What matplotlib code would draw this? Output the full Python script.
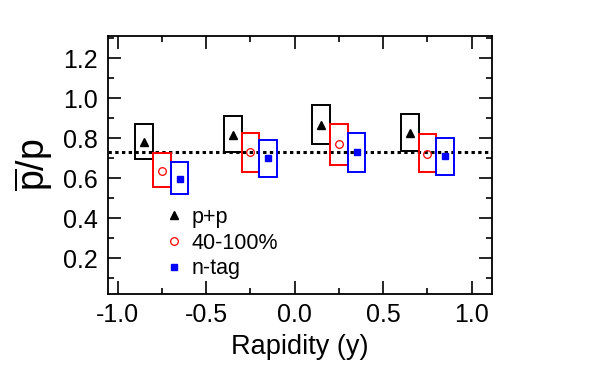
import numpy as np
import matplotlib.pyplot as plt
import matplotlib as mpl

mpl.rcParams['font.family'] = ['Liberation Sans', 'DejaVu Sans']
mpl.rcParams['mathtext.fontset'] = 'custom'
mpl.rcParams['mathtext.rm'] = 'Liberation Sans'
mpl.rcParams['mathtext.it'] = 'Liberation Sans'

# rapidity bins, one group of three per bin
y_pp = [-0.85, -0.35, 0.15, 0.65]
y_per = [-0.75, -0.25, 0.25, 0.75]
y_ntag = [-0.65, -0.15, 0.35, 0.85]

# p+p
pp_val = [0.782, 0.816, 0.866, 0.824]
pp_lo = [0.698, 0.730, 0.771, 0.738]
pp_hi = [0.872, 0.911, 0.966, 0.921]

# 40-100%
per_val = [0.638, 0.730, 0.770, 0.721]
per_lo = [0.558, 0.633, 0.666, 0.630]
per_hi = [0.725, 0.824, 0.869, 0.819]

# n-tag
ntag_val = [0.598, 0.700, 0.730, 0.711]
ntag_lo = [0.520, 0.608, 0.633, 0.616]
ntag_hi = [0.680, 0.791, 0.824, 0.803]

ref_ratio = 0.730
box_w = 0.1

fig = plt.figure(figsize=(6, 3.68), dpi=100)
ax = fig.add_axes([0.1795, 0.2003, 0.64, 0.7019])

# systematic boxes
for xs, lo, hi, col in [(y_pp, pp_lo, pp_hi, 'black'),
                        (y_per, per_lo, per_hi, 'red'),
                        (y_ntag, ntag_lo, ntag_hi, 'blue')]:
    ax.bar(xs, np.array(hi) - np.array(lo), bottom=lo, width=box_w,
           fill=False, edgecolor=col, linewidth=1.4, zorder=2)

ax.axhline(ref_ratio, color='black', linestyle=(0, (1.1, 1.1)), linewidth=2.2, zorder=1)

h1, = ax.plot(y_pp, pp_val, '^', color='black', ms=5.5, ls='none', zorder=3)
h2, = ax.plot(y_per, per_val, 'o', mfc='none', mec='red', mew=0.9, ms=5.5, ls='none', zorder=3)
h3, = ax.plot(y_ntag, ntag_val, 's', color='blue', ms=5, ls='none', zorder=3)

ax.legend([h1, h2, h3], ['p+p', '40-100%', 'n-tag'], loc='upper left',
          bbox_to_anchor=(0.145, 0.338), frameon=False, fontsize=15.5,
          handlelength=1.0, handletextpad=0.3, labelspacing=0.22,
          numpoints=1, borderpad=0, borderaxespad=0)

ax.set_xlim(-1.056, 1.113)
ax.set_ylim(0.02, 1.31)
ax.set_xticks([-1.0, -0.5, 0.0, 0.5, 1.0])
ax.set_xticklabels(['-1.0', '-0.5', '0.0', '0.5', '1.0'])
ax.set_xticks(np.arange(-1.0, 1.01, 0.25), minor=True)
ax.set_yticks([0.2, 0.4, 0.6, 0.8, 1.0, 1.2])
ax.set_yticklabels(['0.2', '0.4', '0.6', '0.8', '1.0', '1.2'])
ax.set_yticks(np.arange(0.1, 1.31, 0.1), minor=True)

ax.tick_params(which='both', direction='in', top=True, right=True, labelsize=18, width=1.2)
ax.tick_params(which='major', length=9.5)
ax.tick_params(which='minor', length=4.2)
ax.tick_params(axis='x', pad=6)
ax.tick_params(axis='y', pad=7)
for s in ax.spines.values():
    s.set_linewidth(1.3)

ax.set_xlabel('Rapidity (y)', fontsize=19.5, labelpad=5)
ax.set_ylabel(r'$\overline{\mathrm{p}}/\mathrm{p}$', fontsize=27, labelpad=6)

fig.savefig('out.png', dpi=100)
